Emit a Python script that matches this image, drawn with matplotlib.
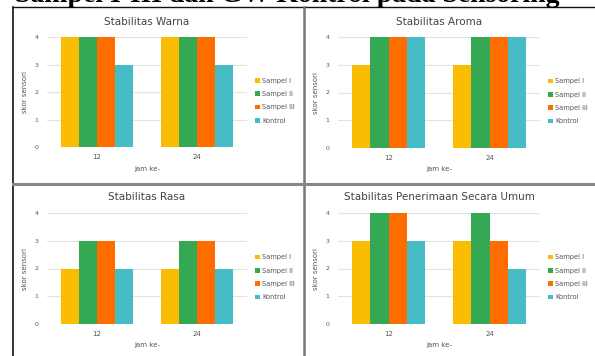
import numpy as np
import matplotlib as mpl
import matplotlib.pyplot as plt
from matplotlib.lines import Line2D

# data
jam = ['12', '24']
series = ['Sampel I', 'Sampel II', 'Sampel III', 'Kontrol']
colors = ['#FBBC04', '#34A853', '#FF6D01', '#46BDC6']

warna = [[4, 4], [4, 4], [4, 4], [3, 3]]
aroma = [[3, 3], [4, 4], [4, 4], [4, 4]]
rasa = [[2, 2], [3, 3], [3, 3], [2, 2]]
umum = [[3, 3], [4, 4], [4, 3], [3, 2]]

titles = ['Stabilitas Warna', 'Stabilitas Aroma', 'Stabilitas Rasa',
          'Stabilitas Penerimaan Secara Umum']
panels = [warna, aroma, rasa, umum]

W, H = 595, 356
fig = plt.figure(figsize=(W / 100, H / 100), dpi=100)
fig.patch.set_facecolor('white')


def px(x0, y0, x1, y1):
    # pixel box (top-left origin) -> figure fraction rect
    return [x0 / W, 1 - y1 / H, (x1 - x0) / W, (y1 - y0) / H]


# axes boxes in pixels: (left, top, right, bottom)
boxes = [(47, 37, 247, 147), (338, 37, 540, 148),
         (47, 213, 247, 324), (338, 213, 540, 324)]

gray = '#555555'
for k, (vals, title, box) in enumerate(zip(panels, titles, boxes)):
    ax = fig.add_axes(px(*box))
    x = np.arange(len(jam))
    bw = 0.18
    for i, (name, c) in enumerate(zip(series, colors)):
        ax.bar(x + (i - 1.5) * bw, vals[i], width=bw, color=c, label=name,
               zorder=3, edgecolor='none')
    ax.set_xlim(-0.5, 1.5)
    ax.set_ylim(0, 4)
    ax.set_yticks([0, 1, 2, 3, 4])
    ax.set_xticks(x)
    ax.set_xticklabels(jam)
    ax.grid(axis='y', color='#e3e3e3', linewidth=0.8, zorder=0)
    for s in ax.spines.values():
        s.set_visible(False)
    ax.tick_params(length=0, labelsize=4.5, labelcolor=gray, pad=6)
    ax.tick_params(axis='x', labelsize=5, pad=5)
    ax.set_ylabel('skor sensori', fontsize=5, color=gray, labelpad=5)
    ax.set_xlabel('jam ke-', fontsize=5, color=gray, labelpad=4)
    ax.set_title(title, fontsize=7.5, color='#444444', pad=9)
    ax.legend(loc='center left', bbox_to_anchor=(1.01, 0.42), frameon=False,
              fontsize=4.8, handlelength=0.7, handleheight=0.7,
              handletextpad=0.4, labelspacing=1.1, labelcolor=gray)

# table borders
black = '#111111'
fig.add_artist(Line2D([13 / W, 13 / W], [0, 1 - 7 / H], color=black, lw=1.2))
fig.add_artist(Line2D([13 / W, 1], [1 - 7 / H, 1 - 7 / H], color=black, lw=1.0))
fig.add_artist(Line2D([304 / W, 304 / W], [0, 1 - 7 / H], color='#777777', lw=1.8))
fig.add_artist(Line2D([13 / W, 1], [1 - 184 / H, 1 - 184 / H], color='#888888', lw=2.2))

# heading above the table (runs off the top edge)
fig.text(15 / W, 1 - 2.5 / H, 'Sampel I-III dan GW Kontrol pada Sensoring',
         fontsize=20, fontweight='bold', family='Liberation Serif',
         va='baseline', ha='left')

fig.savefig('out.png', dpi=100)
